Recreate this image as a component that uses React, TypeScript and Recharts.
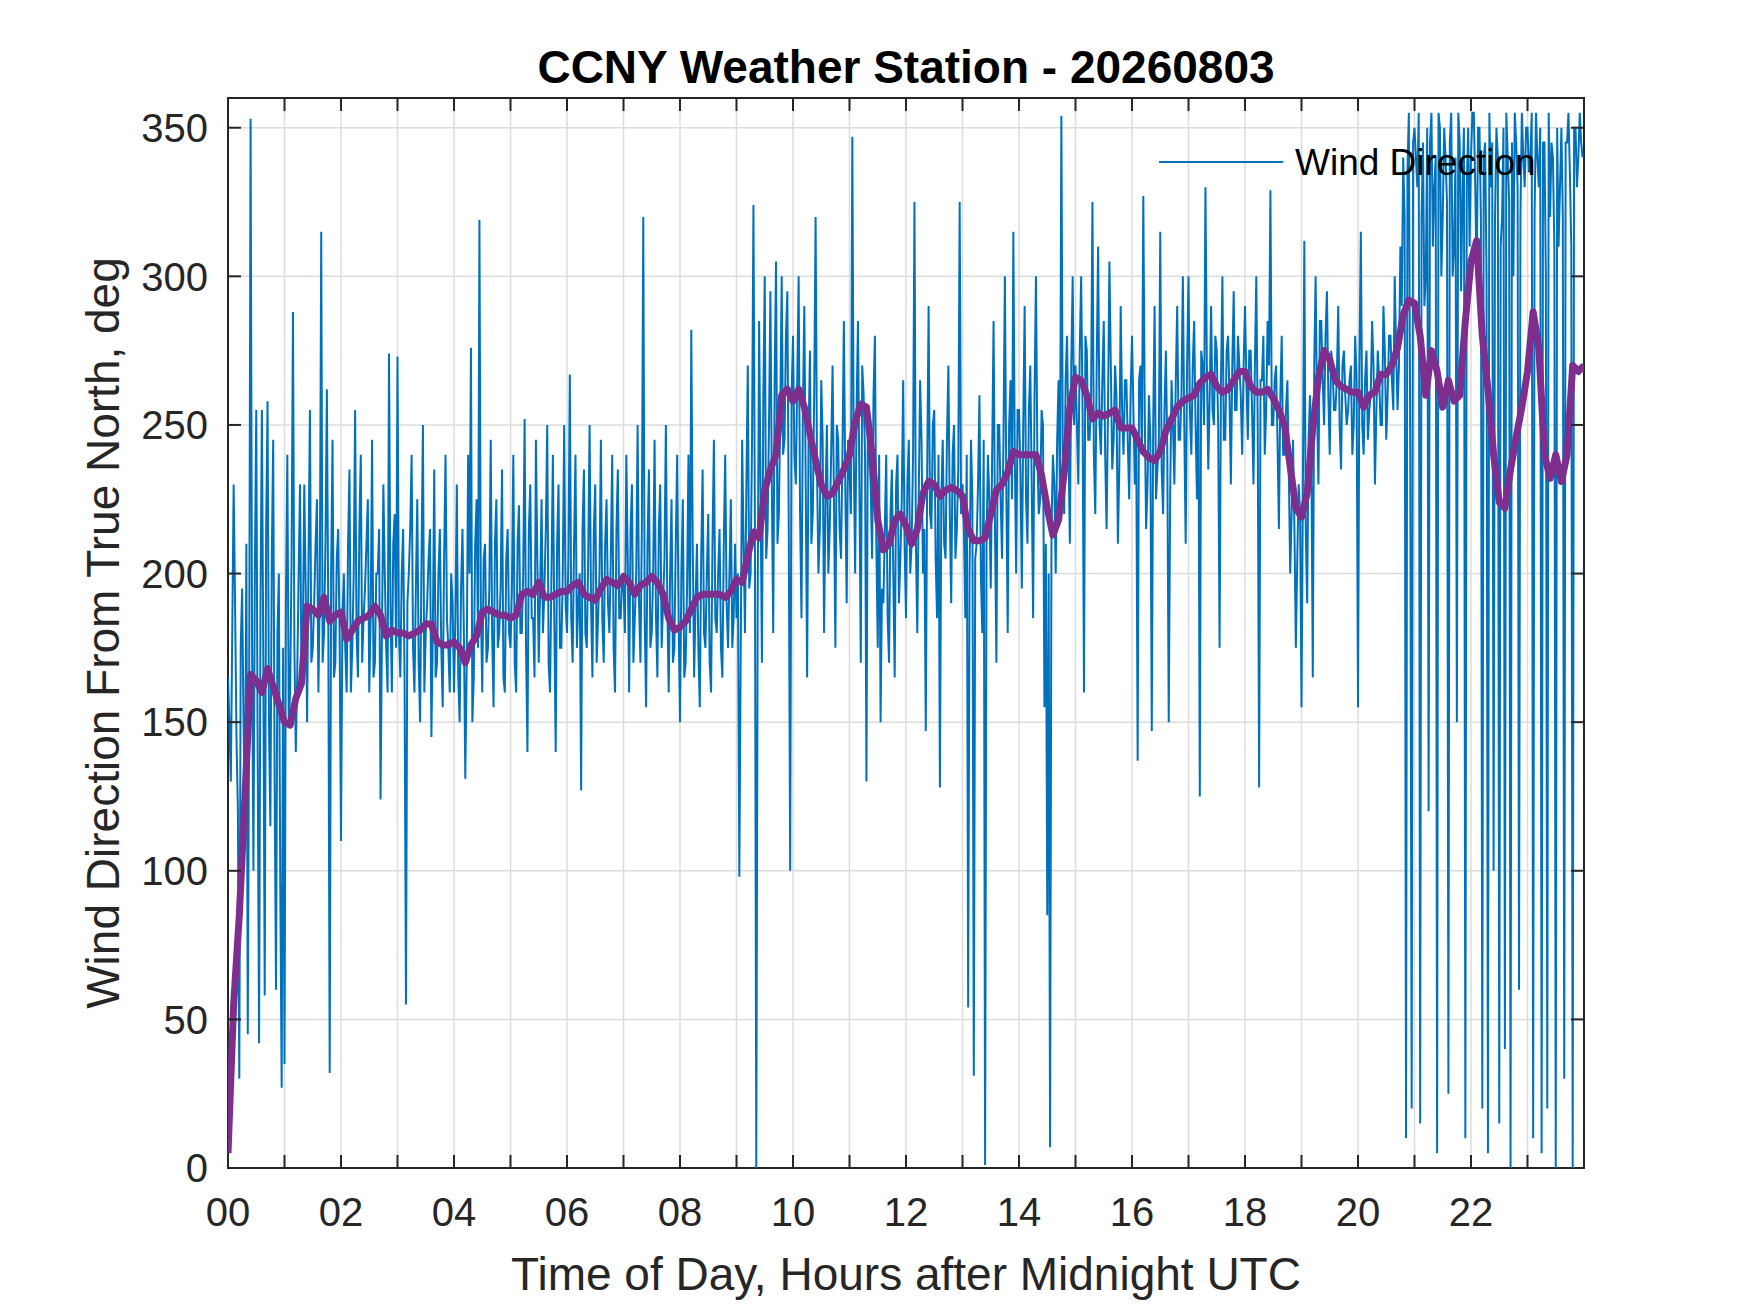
import React from 'react';
import {
  LineChart,
  Line,
  XAxis,
  YAxis,
  CartesianGrid,
  ReferenceArea,
  ReferenceLine,
} from 'recharts';

// axis ticks
const HOUR_TICKS = [0, 1, 2, 3, 4, 5, 6, 7, 8, 9, 10, 11, 12, 13, 14, 15, 16, 17, 18, 19, 20, 21, 22, 23, 24];
const DIR_TICKS = [0, 50, 100, 150, 200, 250, 300, 350];

// wind direction (deg from true north), readings on the 0.05 h grid
const SAMPLE_STEP_H = 0.05;
const windDirection = [
  // 00
  165, 130, 230, 145, 30, 195, 115, 45, 353, 100, 255, 42, 255, 58, 258, 115, 245, 60, 200, 27,
  // 01
  35, 240, 160, 288, 140, 200, 165, 230, 150, 255, 175, 210, 160, 315, 180, 262, 32, 245, 170, 215,
  // 02
  110, 200, 160, 235, 175, 255, 165, 240, 185, 210, 160, 245, 170, 200, 124, 230, 175, 274, 160, 220,
  // 03
  273, 165, 215, 55, 200, 240, 160, 225, 150, 250, 180, 205, 145, 235, 170, 215, 155, 240, 175, 200,
  // 04
  160, 230, 150, 215, 131, 240, 276, 165, 225, 319, 160, 210, 175, 245, 155, 225, 180, 235, 160, 215,
  // 05
  175, 240, 160, 223, 180, 252, 140, 230, 185, 245, 170, 225, 195, 250, 160, 240, 140, 230, 175, 250,
  // 06
  180, 267, 170, 240, 190, 127, 235, 175, 250, 165, 230, 185, 245, 170, 225, 180, 240, 160, 235, 185,
  // 07
  195, 240, 160, 230, 185, 250, 170, 320, 155, 235, 180, 245, 165, 230, 190, 250, 160, 225, 175, 240,
  // 08
  150, 225, 170, 240, 282, 165, 210, 155, 235, 175, 220, 160, 245, 180, 215, 165, 240, 175, 225, 185,
  // 09
  185, 98, 245, 180, 270, 200, 324, 0, 285, 170, 300, 215, 295, 180, 305, 220, 300, 245, 295, 100,
  // 10
  280, 230, 300, 185, 290, 165, 275, 220, 320, 200, 265, 180, 250, 215, 270, 175, 245, 205, 285, 190,
  // 11
  235, 347, 200, 285, 170, 260, 130, 240, 205, 280, 175, 150, 190, 240, 170, 235, 165, 240, 205, 265,
  // 12
  185, 245, 210, 325, 180, 265, 200, 147, 290, 215, 255, 185, 128, 245, 205, 270, 190, 250, 215, 325,
  // 13
  230, 185, 54, 245, 31, 210, 260, 180, 1, 240, 195, 285, 170, 250, 205, 300, 180, 265, 315, 200,
  // 14
  255, 195, 290, 210, 270, 185, 300, 220, 255, 155, 85, 7, 240, 200, 265, 354, 220, 280, 210, 300,
  // 15
  270, 230, 300, 160, 275, 245, 325, 220, 310, 240, 285, 215, 305, 235, 270, 210, 290, 240, 265, 225,
  // 16
  280, 230, 137, 270, 327, 215, 260, 147, 290, 235, 315, 220, 275, 150, 265, 230, 290, 245, 300, 210,
  // 17
  300, 240, 285, 225, 125, 270, 330, 235, 290, 250, 275, 175, 300, 245, 280, 230, 295, 255, 270, 240,
  // 18
  290, 245, 275, 230, 300, 128, 265, 240, 285, 329, 250, 270, 215, 280, 240, 265, 200, 245, 175, 230,
  // 19
  155, 312, 190, 260, 165, 300, 230, 285, 250, 295, 240, 270, 255, 290, 235, 275, 250, 265, 240, 280,
  // 20
  155, 315, 240, 275, 255, 285, 230, 275, 250, 290, 245, 280, 265, 300, 255, 310, 340, 10, 355, 20,
  // 21
  350, 330, 15, 345, 300, 120, 355, 330, 5, 350, 320, 340, 25, 355, 310, 150, 345, 330, 10, 350,
  // 22
  340, 355, 300, 350, 20, 345, 5, 330, 100, 350, 15, 320, 40, 340, 0, 300, 345, 60, 355, 330,
  // 23
  350, 340, 10, 355, 330, 5, 345, 20, 320, 340, 0, 310, 350, 30, 345, 335, 0, 350, 340, 345,
];

// readings taken half a step (0.025 h) after each of the above
const windDirectionMid = [
  // 00
  150, 180, 190, 120, 175, 150, 210, 165, 180, 200, 140, 190, 170, 215, 150, 205, 130, 180, 95, 175,
  // 01
  190, 150, 205, 175, 165, 230, 180, 195, 205, 170, 190, 225, 195, 170, 210, 185, 200, 165, 205, 180,
  // 02
  185, 175, 210, 160, 200, 180, 215, 170, 195, 225, 185, 165, 200, 215, 180, 200, 160, 190, 210, 175,
  // 03
  180, 200, 165, 190, 215, 175, 195, 170, 205, 160, 190, 215, 180, 165, 200, 175, 205, 185, 160, 190,
  // 04
  185, 165, 195, 180, 170, 200, 150, 210, 175, 190, 205, 170, 195, 180, 210, 175, 195, 165, 205, 180,
  // 05
  195, 170, 210, 180, 200, 175, 215, 185, 165, 205, 195, 180, 215, 170, 200, 185, 210, 175, 200, 190,
  // 06
  205, 185, 210, 175, 200, 215, 180, 205, 190, 215, 170, 200, 185, 210, 190, 205, 175, 215, 185, 200,
  // 07
  180, 205, 215, 170, 200, 190, 215, 185, 210, 175, 200, 185, 215, 175, 205, 190, 200, 170, 210, 185,
  // 08
  200, 165, 195, 180, 210, 190, 175, 205, 180, 200, 170, 210, 185, 200, 175, 210, 190, 200, 175, 210,
  // 09
  200, 175, 210, 230, 195, 245, 220, 190, 230, 260, 205, 250, 230, 265, 210, 255, 240, 280, 215, 260,
  // 10
  240, 265, 220, 255, 230, 245, 210, 260, 235, 215, 245, 225, 200, 240, 225, 250, 215, 240, 230, 245,
  // 11
  220, 240, 255, 230, 270, 240, 255, 230, 260, 210, 240, 195, 215, 185, 220, 200, 230, 190, 225, 210,
  // 12
  230, 200, 240, 210, 225, 245, 215, 235, 220, 250, 205, 240, 225, 210, 245, 220, 240, 205, 235, 220,
  // 13
  215, 240, 200, 225, 205, 230, 200, 245, 210, 225, 240, 215, 250, 225, 245, 230, 250, 225, 240, 255,
  // 14
  235, 250, 225, 255, 230, 260, 240, 225, 250, 210, 200, 215, 230, 245, 225, 240, 265, 245, 270, 250,
  // 15
  250, 275, 255, 280, 245, 260, 240, 270, 250, 265, 240, 255, 270, 245, 260, 235, 255, 265, 245, 260,
  // 16
  255, 245, 265, 240, 255, 230, 245, 250, 225, 245, 235, 255, 240, 225, 250, 265, 245, 260, 250, 270,
  // 17
  255, 270, 250, 265, 275, 250, 270, 260, 255, 280, 250, 265, 245, 275, 260, 270, 255, 280, 260, 270,
  // 18
  265, 275, 255, 270, 250, 265, 280, 255, 270, 250, 265, 245, 260, 240, 255, 235, 220, 215, 205, 220,
  // 19
  230, 215, 245, 240, 270, 255, 285, 265, 280, 260, 275, 255, 265, 250, 270, 260, 255, 270, 250, 265,
  // 20
  270, 250, 265, 245, 260, 270, 255, 265, 250, 275, 260, 280, 255, 275, 270, 290, 320, 335, 240, 345,
  // 21
  340, 355, 320, 290, 350, 345, 310, 340, 355, 300, 350, 325, 345, 300, 340, 355, 295, 350, 330, 310,
  // 22
  355, 330, 350, 320, 340, 300, 355, 345, 320, 340, 310, 350, 355, 325, 345, 355, 330, 320, 340, 350,
  // 23
  335, 355, 320, 340, 350, 345, 300, 355, 345, 310, 350, 330, 320, 345, 355, 310, 350, 330, 355, 340,
];

// running mean, one value every 0.1 h
const SMOOTH_STEP_H = 0.1;
const windDirectionMean = [
  5, 55, 85, 125, 166, 164, 160, 168, 162, 156,
  150, 149, 158, 163, 189, 188, 186, 192, 184, 186,
  187, 178, 181, 184, 185, 186, 189, 186, 179, 181,
  180, 180, 179, 180, 181, 183, 183, 177, 176, 176,
  177, 175, 170, 176, 179, 187, 188, 187, 186, 186,
  185, 186, 193, 194, 193, 197, 192, 192, 193, 194,
  194, 196, 197, 193, 192, 191, 195, 198, 197, 196,
  199, 197, 193, 196, 197, 199, 197, 193, 185, 181,
  182, 184, 188, 192, 193, 193, 193, 193, 192, 194,
  198, 197, 206, 214, 212, 228, 235, 240, 260, 262,
  258, 262, 256, 247, 238, 230, 226, 227, 231, 235,
  240, 251, 257, 256, 240, 218, 208, 210, 218, 220,
  216, 210, 215, 227, 231, 230, 226, 228, 229, 228,
  226, 215, 211, 211, 212, 220, 228, 230, 234, 241,
  240, 240, 240, 240, 233, 222, 213, 218, 234, 256,
  266, 265, 260, 252, 254, 253, 254, 255, 249, 249,
  249, 245, 241, 239, 238, 241, 248, 252, 256, 258,
  259, 260, 264, 266, 267, 263, 261, 262, 265, 268,
  268, 263, 261, 261, 262, 259, 255, 250, 236, 222,
  219, 227, 249, 266, 275, 272, 265, 263, 262, 261,
  261, 256, 260, 261, 267, 267, 270, 276, 287, 292,
  291, 280, 260, 275, 268, 256, 265, 258, 260, 285,
  305, 312, 280, 262, 240, 224, 222, 235, 246, 256,
  268, 288, 276, 240, 232, 240, 231, 240, 270, 268,
  270,
];

const BLUE = '#0072BD';
const PURPLE = '#7E2F8E';
const AXIS = '#262626';
const FONT = '"Liberation Sans", Arial, Helvetica, sans-serif';

const W = 1750;
const H = 1313;

// inward tick length in data units (about 13px)
const TICK_DEG = 4.4;
const TICK_HR = 0.23;

const rawData = windDirection.flatMap((v, i) => [
  { t: +(i * SAMPLE_STEP_H).toFixed(3), dir: v },
  { t: +((i + 0.5) * SAMPLE_STEP_H).toFixed(3), dir: windDirectionMid[i] },
]);
const meanData = windDirectionMean.map((v, i) => ({ t: +(i * SMOOTH_STEP_H).toFixed(1), mean: v }));

const fmtHour = (h: number) => (h % 2 === 0 && h < 24 ? String(h).padStart(2, '0') : '');

export default function App() {
  const innerHours = HOUR_TICKS.slice(1, -1);
  const innerDirs = DIR_TICKS.slice(1);

  return (
    <div style={{ position: 'absolute', left: 0, top: 0, width: W, height: H, background: '#fff' }}>
      <LineChart width={W} height={H} margin={{ top: 98, right: 166, bottom: 95, left: 128 }}>
        <CartesianGrid stroke="#dcdcdc" strokeWidth={1.5} />
        <XAxis
          dataKey="t"
          type="number"
          domain={[0, 24]}
          ticks={HOUR_TICKS}
          interval={0}
          allowDataOverflow
          tickFormatter={fmtHour}
          tick={{ fill: AXIS, fontSize: 40, fontFamily: FONT }}
          tickLine={false}
          axisLine={false}
          tickSize={0}
          tickMargin={30}
          height={50}
        />
        <YAxis
          type="number"
          domain={[0, 360]}
          ticks={DIR_TICKS}
          interval={0}
          allowDataOverflow
          tick={{ fill: AXIS, fontSize: 40, fontFamily: FONT }}
          tickLine={false}
          axisLine={false}
          tickSize={0}
          tickMargin={20}
          width={100}
        />
        <Line
          data={rawData}
          dataKey="dir"
          type="linear"
          stroke={BLUE}
          strokeWidth={2}
          dot={false}
          isAnimationActive={false}
          name="Wind Direction"
        />
        <Line
          data={meanData}
          dataKey="mean"
          type="linear"
          stroke={PURPLE}
          strokeWidth={7}
          strokeLinejoin="round"
          dot={false}
          isAnimationActive={false}
          legendType="none"
        />
        <ReferenceArea x1={0} x2={24} y1={0} y2={360} fill="none" stroke={AXIS} strokeWidth={2} />
        {innerHours.map(h => (
          <ReferenceLine key={`xb${h}`} segment={[{ x: h, y: 0 }, { x: h, y: TICK_DEG }]} stroke={AXIS} strokeWidth={2} />
        ))}
        {innerHours.map(h => (
          <ReferenceLine key={`xt${h}`} segment={[{ x: h, y: 360 }, { x: h, y: 360 - TICK_DEG }]} stroke={AXIS} strokeWidth={2} />
        ))}
        {innerDirs.map(v => (
          <ReferenceLine key={`yl${v}`} segment={[{ x: 0, y: v }, { x: TICK_HR, y: v }]} stroke={AXIS} strokeWidth={2} />
        ))}
        {innerDirs.map(v => (
          <ReferenceLine key={`yr${v}`} segment={[{ x: 24, y: v }, { x: 24 - TICK_HR, y: v }]} stroke={AXIS} strokeWidth={2} />
        ))}
      </LineChart>

      {/* title, axis labels and legend */}
      <svg width={W} height={H} style={{ position: 'absolute', left: 0, top: 0, pointerEvents: 'none' }}>
        <text x={906} y={83} textAnchor="middle" fontFamily={FONT} fontSize={46} fontWeight="bold" fill="#000">
          CCNY Weather Station - 20260803
        </text>
        <text x={906} y={1290} textAnchor="middle" fontFamily={FONT} fontSize={46} fill={AXIS}>
          Time of Day, Hours after Midnight UTC
        </text>
        <text
          transform="translate(119,633) rotate(-90)"
          textAnchor="middle"
          fontFamily={FONT}
          fontSize={46}
          fill={AXIS}
        >
          Wind Direction From True North, deg
        </text>
        <line x1={1159} y1={162} x2={1283} y2={162} stroke={BLUE} strokeWidth={2} />
        <text x={1295} y={175} fontFamily={FONT} fontSize={37} fill="#000">
          Wind Direction
        </text>
      </svg>
    </div>
  );
}
